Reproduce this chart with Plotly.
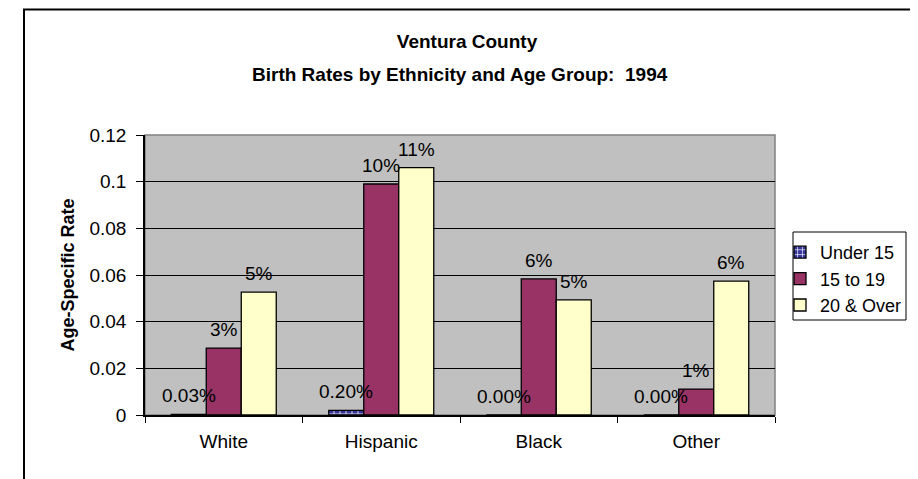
import plotly.graph_objects as go

categories = ["White", "Hispanic", "Black", "Other"]
series_names = ["Under 15", "15 to 19", "20 & Over"]
under15 = [0.0003, 0.0020, 0.0, 0.0]
age15_19 = [0.0287, 0.0990, 0.0583, 0.0111]
age20_over = [0.0527, 0.1060, 0.0493, 0.0574]
label_formats = ["{:.2%}", "{:.0%}", "{:.0%}"]
y_ticks = [0, 0.02, 0.04, 0.06, 0.08, 0.1, 0.12]
title_lines = ["Ventura County", "Birth Rates by Ethnicity and Age Group:  1994"]
y_title = "Age-Specific Rate"

W, H = 918, 479
ML, MR, MT, MB = 137, 151, 127, 72
PW, PH = W - ML - MR, H - MT - MB
BARGAP = 1 / 3
FONT = "Liberation Sans, Arial, sans-serif"
FS = 19


def px_x(px):
    return (px - ML) / PW


def px_y(py):
    return (H - MB - py) / PH


series = [under15, age15_19, age20_over]
colors = ["#333399", "#993366", "#FFFFCC"]

fig = go.Figure()
for i, (name, vals) in enumerate(zip(series_names, series)):
    marker = dict(color=colors[i], line=dict(color="black", width=1.3))
    if i == 0:
        marker["pattern"] = dict(shape="+", bgcolor=colors[i], fgcolor="white",
                                 size=6, solidity=0.25, fillmode="replace")
    fig.add_trace(go.Bar(x=categories, y=vals, name=name, marker=marker,
                         hoverinfo="skip"))

bar_px = PW / len(categories) * (1 - BARGAP) / len(series)
annotations = []
for i, vals in enumerate(series):
    for c, v in zip(categories, vals):
        annotations.append(dict(
            x=c, y=v, xref="x", yref="y", text=label_formats[i].format(v),
            showarrow=False, xanchor="center", yanchor="bottom",
            xshift=(i - 1) * bar_px, yshift=6,
            font=dict(family=FONT, size=FS, color="black")))

# second title line
annotations.append(dict(
    x=0.5, y=px_y(66), xref="paper", yref="paper", xanchor="center",
    yanchor="middle", text="<b>" + title_lines[1] + "</b>", showarrow=False,
    font=dict(family=FONT, size=FS, color="black")))

fig.update_layout(
    width=W, height=H,
    margin=dict(l=ML, r=MR, t=MT, b=MB, autoexpand=False),
    paper_bgcolor="white", plot_bgcolor="#C0C0C0",
    barmode="group", bargap=BARGAP, bargroupgap=0,
    font=dict(family=FONT, size=FS, color="black"),
    title=dict(text="<b>" + title_lines[0] + "</b>",
               x=0.5, xanchor="center", xref="container",
               y=1 - 33 / H, yanchor="middle", yref="container",
               font=dict(family=FONT, size=FS, color="black")),
    legend=dict(x=px_x(772), y=px_y(226), xanchor="left", yanchor="top",
                bgcolor="rgba(0,0,0,0)", borderwidth=0,
                font=dict(family=FONT, size=18, color="black"),
                traceorder="normal", itemclick=False, itemdoubleclick=False),
    annotations=annotations,
    shapes=[
        dict(type="rect", xref="paper", yref="paper", x0=0, x1=1, y0=0, y1=1,
             line=dict(color="#808080", width=1.5), fillcolor="rgba(0,0,0,0)",
             layer="between"),
        dict(type="rect", xref="paper", yref="paper",
             x0=px_x(16), x1=px_x(915), y0=px_y(495), y1=px_y(1.5),
             line=dict(color="black", width=2), fillcolor="rgba(0,0,0,0)"),
        dict(type="rect", xref="paper", yref="paper",
             x0=px_x(785), x1=px_x(898), y0=px_y(312), y1=px_y(224),
             line=dict(color="black", width=1), fillcolor="white", layer="below"),
    ],
)
fig.update_xaxes(showgrid=False, showline=True, linecolor="black", linewidth=1.5,
                 ticks="outside", ticklen=6, tickcolor="black", tickson="boundaries",
                 ticklabelstandoff=8,
                 tickfont=dict(family=FONT, size=FS, color="black"), fixedrange=True)
fig.update_yaxes(range=[0, 0.12], tickvals=y_ticks, showgrid=True, gridcolor="black",
                 gridwidth=1, zeroline=False, showline=True, linecolor="black",
                 linewidth=1.5, ticks="outside", ticklen=7, tickcolor="black",
                 ticklabelstandoff=6,
                 tickfont=dict(family=FONT, size=FS, color="black"),
                 title=dict(text="<b>" + y_title + "</b>", standoff=10,
                            font=dict(family=FONT, size=18, color="black")),
                 fixedrange=True)

fig.write_html("out.html", config={"displayModeBar": False})
